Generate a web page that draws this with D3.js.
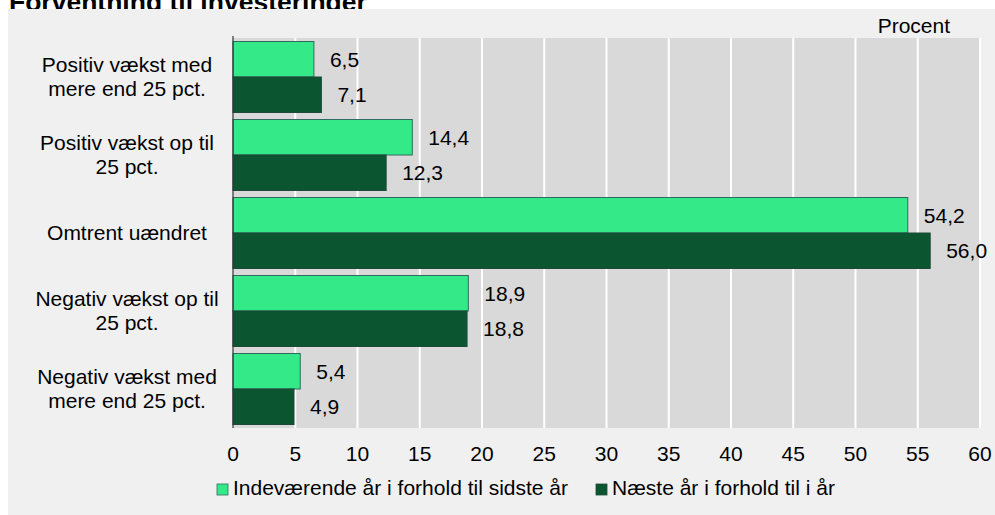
<!DOCTYPE html>
<html>
<head>
<meta charset="utf-8">
<script src="https://cdn.jsdelivr.net/npm/d3@7"></script>
<style>
  body { margin: 0; background: #fff; }
  svg { display: block; font-family: "Liberation Sans", Arial, sans-serif; }
</style>
</head>
<body>
<svg id="chart"></svg>
<script>
const categories = [
  ["Positiv vækst med", "mere end 25 pct."],
  ["Positiv vækst op til", "25 pct."],
  ["Omtrent uændret"],
  ["Negativ vækst op til", "25 pct."],
  ["Negativ vækst med", "mere end 25 pct."]
];
const seriesNames = ["Indeværende år i forhold til sidste år", "Næste år i forhold til i år"];
const current = [6.5, 14.4, 54.2, 18.9, 5.4];
const next = [7.1, 12.3, 56.0, 18.8, 4.9];
const ticks = [0, 5, 10, 15, 20, 25, 30, 35, 40, 45, 50, 55, 60];
const colors = ["#34ea88", "#0b5530"];
const strokes = ["#2f6b5e", "#1f4a3a"];

const width = 995, height = 515;
const plot = {left: 233, right: 980, top: 38, bottom: 428};
const fs = 21;

const svg = d3.select("#chart").attr("width", width).attr("height", height);

// title, mostly hidden behind the panel like in the source
svg.append("text").attr("x", 9).attr("y", 11)
  .attr("font-size", 26.5).attr("font-weight", "bold").attr("fill", "#000")
  .text("Forventning til investeringer");

svg.append("rect").attr("x", 8).attr("y", 9).attr("width", width - 8).attr("height", height - 9)
  .attr("fill", "#f0f0f0");

const x = d3.scaleLinear().domain([0, 60]).range([plot.left, plot.right]);
const keys = categories.map((c, i) => i);
const y = d3.scaleBand().domain(keys).range([plot.top, plot.bottom])
  .paddingInner(0.09).paddingOuter(0.045);
const ySub = d3.scaleBand().domain([0, 1]).range([0, y.bandwidth()]);

svg.append("rect").attr("x", plot.left).attr("y", plot.top)
  .attr("width", plot.right - plot.left).attr("height", plot.bottom - plot.top)
  .attr("fill", "#d9d9d9");

svg.append("g").selectAll("line").data(ticks.slice(1)).enter().append("line")
  .attr("x1", d => x(d)).attr("x2", d => x(d))
  .attr("y1", plot.top).attr("y2", plot.bottom)
  .attr("stroke", "#fff").attr("stroke-width", 2);

const rows = categories.map((c, i) => ({i, vals: [current[i], next[i]]}));

const groups = svg.append("g").selectAll("g").data(rows).enter().append("g")
  .attr("transform", d => `translate(0,${y(d.i)})`);

groups.selectAll("rect").data(d => d.vals.map((v, s) => ({v, s}))).enter().append("rect")
  .attr("x", x(0))
  .attr("y", d => ySub(d.s))
  .attr("width", d => x(d.v) - x(0))
  .attr("height", ySub.bandwidth())
  .attr("fill", d => colors[d.s])
  .attr("stroke", d => strokes[d.s]).attr("stroke-width", 1);

groups.selectAll("text").data(d => d.vals.map((v, s) => ({v, s}))).enter().append("text")
  .attr("x", d => x(d.v) + 16)
  .attr("y", d => ySub(d.s) + ySub.bandwidth() / 2)
  .attr("dy", "0.35em")
  .attr("font-size", fs).attr("fill", "#000")
  .text(d => d3.format(".1f")(d.v).replace(".", ","));

// left axis line
svg.append("line").attr("x1", plot.left).attr("x2", plot.left)
  .attr("y1", plot.top - 2).attr("y2", plot.bottom)
  .attr("stroke", "#333").attr("stroke-width", 1.2);

// category labels
const catLabels = svg.append("g").selectAll("text").data(rows).enter().append("text")
  .attr("text-anchor", "middle").attr("font-size", fs).attr("fill", "#000")
  .attr("y", d => y(d.i) + y.bandwidth() / 2);
catLabels.each(function(d) {
  const lines = categories[d.i];
  const t = d3.select(this);
  lines.forEach((ln, k) => {
    t.append("tspan").attr("x", 127)
      .attr("dy", k === 0 ? `${0.35 - (lines.length - 1) * 0.57}em` : "1.14em")
      .text(ln);
  });
});

// x axis tick labels
svg.append("g").selectAll("text").data(ticks).enter().append("text")
  .attr("x", d => x(d)).attr("y", 461)
  .attr("text-anchor", "middle").attr("font-size", fs).attr("fill", "#000")
  .text(d => d);

svg.append("text").attr("x", 950).attr("y", 33).attr("text-anchor", "end")
  .attr("font-size", fs).attr("fill", "#000").text("Procent");

// legend
const legendX = [217, 596];
const legend = svg.append("g").selectAll("g").data(seriesNames).enter().append("g")
  .attr("transform", (d, i) => `translate(${legendX[i]},484)`);
legend.append("rect").attr("width", 11).attr("height", 11)
  .attr("fill", (d, i) => colors[i]).attr("stroke", (d, i) => strokes[i]).attr("stroke-width", 0.8);
legend.append("text").attr("x", 16).attr("y", 11)
  .attr("font-size", fs).attr("fill", "#000").text(d => d);
</script>
</body>
</html>
